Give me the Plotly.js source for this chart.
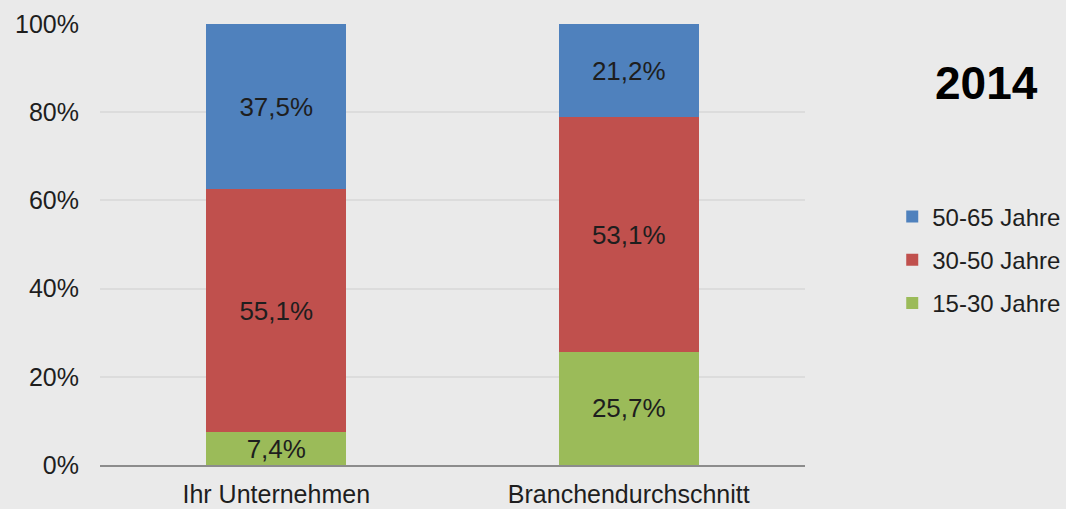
<!DOCTYPE html>
<html>
<head>
<meta charset="utf-8">
<script src="https://cdn.plot.ly/plotly-3.0.1.min.js"></script>
<style>html,body{margin:0;padding:0;background:#eaeaea;}#chart{width:1066px;height:509px;}</style>
</head>
<body>
<div id="chart"></div>
<script>
const categories = ["Ihr Unternehmen", "Branchendurchschnitt"];
const seriesNames = ["15-30 Jahre", "30-50 Jahre", "50-65 Jahre"];
const values15_30 = [7.4, 25.7];
const values30_50 = [55.1, 53.1];
const values50_65 = [37.5, 21.2];
const colors = ["#9bbb59", "#c0504d", "#4f81bd"];
const yTickVals = [0, 20, 40, 60, 80, 100];
const yTickText = ["0%", "20%", "40%", "60%", "80%", "100%"];
const legendTitle = "2014";

const font = "Liberation Sans, Arial, sans-serif";
const txtColor = "#1e1e1e";
const seriesValues = [values15_30, values30_50, values50_65];

const traces = seriesValues.map((vals, i) => ({
  type: "bar",
  name: seriesNames[i],
  x: categories,
  y: vals,
  marker: {color: colors[i], line: {width: 0}},
  texttemplate: "%{y:.1f}%",
  textposition: "inside",
  insidetextanchor: "middle",
  constraintext: "none",
  textfont: {family: font, size: 26, color: txtColor},
  hoverinfo: "none",
  legendgroup: "g" + i,
  legendrank: 1000 - i
}));

const layout = {
  width: 1066, height: 509,
  margin: {l: 100, r: 261, t: 24, b: 44},
  paper_bgcolor: "#eaeaea",
  plot_bgcolor: "#eaeaea",
  barmode: "stack",
  bargap: 0.603,
  separators: ",.",
  font: {family: font, size: 24, color: txtColor},
  xaxis: {
    showgrid: false, zeroline: false,
    showline: true, linecolor: "#8c8c8c", linewidth: 2,
    ticks: "", ticklabelstandoff: 6,
    tickfont: {family: font, size: 25, color: txtColor}
  },
  yaxis: {
    range: [0, 100], tickvals: yTickVals, ticktext: yTickText,
    showgrid: true, gridcolor: "#dcdcdc", gridwidth: 2,
    zeroline: false, showline: false, ticks: "",
    ticklabelstandoff: 20,
    tickfont: {family: font, size: 25, color: txtColor}
  },
  showlegend: true,
  legend: {
    xref: "container", yref: "container",
    x: 0.837, y: 0.618, xanchor: "left", yanchor: "top",
    traceorder: "grouped", tracegroupgap: 9,
    bgcolor: "rgba(0,0,0,0)",
    font: {family: font, size: 24, color: txtColor}
  },
  annotations: [{
    text: "<b>" + legendTitle + "</b>",
    xref: "paper", yref: "paper",
    x: 1.258, y: 0.866, xanchor: "center", yanchor: "middle",
    showarrow: false,
    font: {family: font, size: 46, color: "#000000"}
  }]
};

Plotly.newPlot("chart", traces, layout, {displayModeBar: false, staticPlot: true});
</script>
</body>
</html>
